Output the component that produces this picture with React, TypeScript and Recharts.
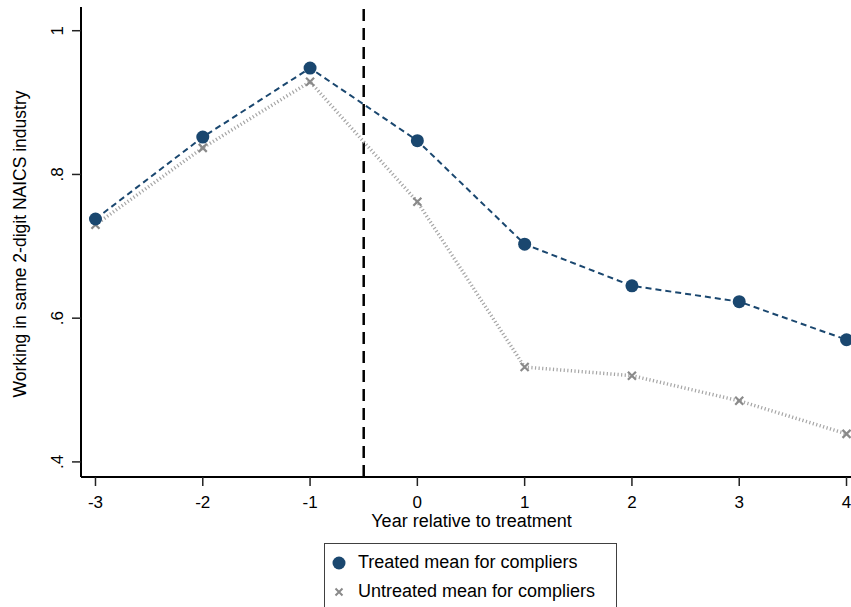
import { CartesianGrid, Line, LineChart, ReferenceLine, XAxis, YAxis } from "recharts";

const years = [-3, -2, -1, 0, 1, 2, 3, 4];
const treated = [0.738, 0.852, 0.948, 0.847, 0.703, 0.645, 0.623, 0.57];
const untreated = [0.73, 0.837, 0.929, 0.762, 0.532, 0.52, 0.485, 0.439];
const yTicks = [0.4, 0.6, 0.8, 1];
const yTickLabels = [".4", ".6", ".8", "1"];

const data = years.map((yr, i) => ({ yr, treated: treated[i], untreated: untreated[i] }));

const NAVY = "#1a476f";
const GRAY = "#8a8a8a";
const FONT = "'Liberation Sans', Arial, sans-serif";

const XTick = ({ x, y, payload }: any) => (
  <text x={x} y={y + 22} textAnchor="middle" fontSize={17} fontFamily={FONT} fill="#000">
    {payload.value}
  </text>
);

const YTick = ({ x, y, payload }: any) => {
  const i = yTicks.indexOf(payload.value);
  return (
    <text
      x={x - 1}
      y={y}
      transform={`rotate(-90 ${x - 1} ${y})`}
      textAnchor="middle"
      fontSize={17}
      fontFamily={FONT}
      fill="#000"
    >
      {yTickLabels[i]}
    </text>
  );
};

const Circle = ({ cx, cy }: any) => <circle cx={cx} cy={cy} r={6.5} fill={NAVY} />;

const Cross = ({ cx, cy }: any) => (
  <path
    d={`M${cx - 4},${cy - 4}L${cx + 4},${cy + 4}M${cx - 4},${cy + 4}L${cx + 4},${cy - 4}`}
    stroke={GRAY}
    strokeWidth={2.2}
  />
);

export default function App() {
  return (
    <div style={{ position: "absolute", left: 0, top: 0, width: 851, height: 607, overflow: "hidden", background: "#fff", fontFamily: FONT }}>
      <LineChart width={870} height={607} data={data} margin={{ top: 7, right: 9, bottom: 0, left: 0 }}>
        <CartesianGrid horizontal={false} vertical={false} />
        <XAxis
          dataKey="yr"
          type="number"
          domain={[-3.135, 4.135]}
          ticks={years}
          tick={<XTick />}
          tickSize={9}
          tickMargin={0}
          height={130}
          axisLine={{ stroke: "#000", strokeWidth: 2 }}
          tickLine={{ stroke: "#222", strokeWidth: 1.5 }}
          interval={0}
        />
        <XAxis xAxisId="top" orientation="top" type="number" domain={[-3.135, 4.135]} height={0} tick={false} tickLine={false} axisLine={{ stroke: "#333", strokeWidth: 1.5 }} />
        <YAxis
          type="number"
          domain={[0.379, 1.033]}
          ticks={yTicks}
          tick={<YTick />}
          tickSize={9}
          tickMargin={8}
          width={81}
          axisLine={{ stroke: "#000", strokeWidth: 2 }}
          tickLine={{ stroke: "#222", strokeWidth: 1.5 }}
          interval={0}
        />
        <ReferenceLine x={-0.5} stroke="#000" strokeWidth={2.5} strokeDasharray="12 7" />
        <Line
          dataKey="untreated"
          stroke="#a6a6a6"
          strokeWidth={3.5}
          strokeDasharray="1.2 2.4"
          dot={<Cross />}
          activeDot={false}
          isAnimationActive={false}
        />
        <Line
          dataKey="treated"
          stroke={NAVY}
          strokeWidth={2}
          strokeDasharray="6 4"
          dot={<Circle />}
          activeDot={false}
          isAnimationActive={false}
        />
      </LineChart>
      <div style={{ position: "absolute", left: 0, top: 510, width: 943, textAlign: "center", fontSize: 18, lineHeight: "22px" }}>
        Year relative to treatment
      </div>
      <div
        style={{
          position: "absolute",
          left: 20,
          top: 244,
          transform: "translate(-50%, -50%) rotate(-90deg)",
          whiteSpace: "nowrap",
          fontSize: 17.5,
          lineHeight: "20px",
        }}
      >
        Working in same 2-digit NAICS industry
      </div>
      <div
        style={{
          position: "absolute",
          left: 324,
          top: 543,
          width: 293,
          height: 80,
          border: "1px solid #404040",
          boxSizing: "border-box",
          background: "#fff",
        }}
      >
        <svg style={{ position: "absolute", left: 0, top: 0 }} width={30} height={70}>
          <circle cx={14} cy={19} r={6.5} fill={NAVY} />
          <path d="M10.5,44.5L17.5,51.5M10.5,51.5L17.5,44.5" stroke={GRAY} strokeWidth={2} />
        </svg>
        <div style={{ position: "absolute", left: 33, top: 7, fontSize: 18, lineHeight: "22px", whiteSpace: "nowrap" }}>
          Treated mean for compliers
        </div>
        <div style={{ position: "absolute", left: 33, top: 36, fontSize: 18, lineHeight: "22px", whiteSpace: "nowrap" }}>
          Untreated mean for compliers
        </div>
      </div>
    </div>
  );
}
